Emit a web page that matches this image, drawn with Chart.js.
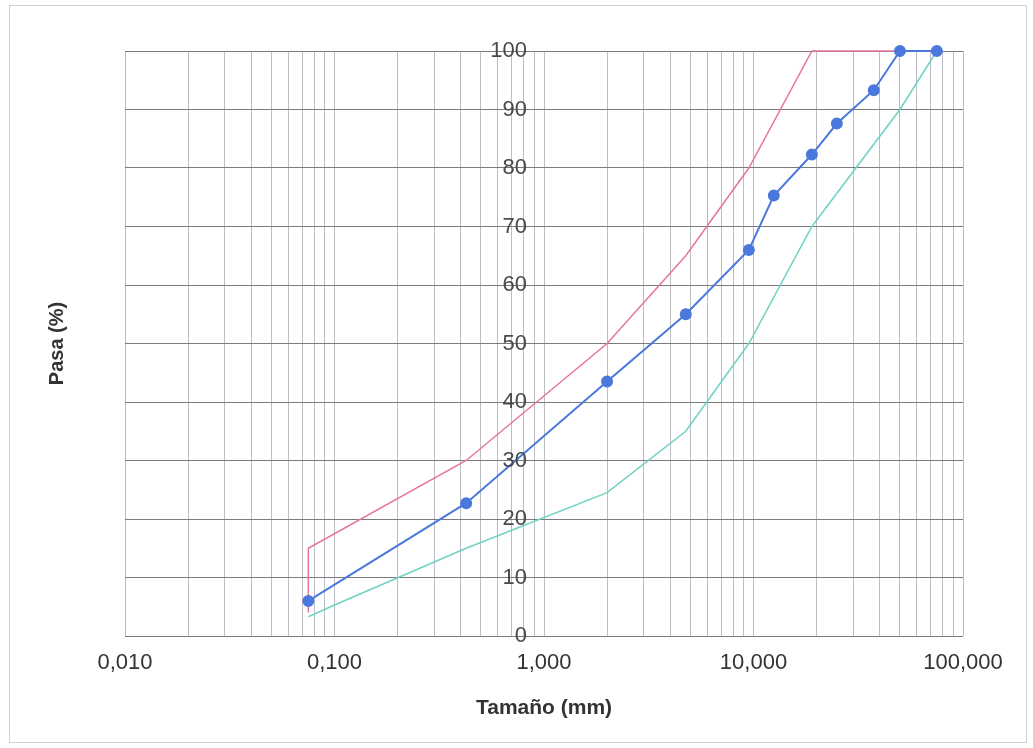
<!DOCTYPE html>
<html>
<head>
<meta charset="utf-8">
<script src="https://cdn.jsdelivr.net/npm/chart.js@4.4.1/dist/chart.umd.min.js"></script>
<style>
html,body{margin:0;padding:0;background:#fff;}
canvas{display:block;}
</style>
</head>
<body>
<canvas id="c" width="1033" height="748"></canvas>
<script>
// Gradation curve (sample)
const sizesSample = [0.075, 0.425, 2, 4.75, 9.5, 12.5, 19, 25, 37.5, 50, 75];
const passSample  = [6, 22.7, 43.5, 55, 66, 75.3, 82.3, 87.6, 93.3, 100, 100];
// Upper limit
const sizesUpper = [0.075, 0.075, 0.425, 2, 4.75, 9.5, 19, 75];
const passUpper  = [4, 15, 30, 50, 65, 80, 100, 100];
// Lower limit
const sizesLower = [0.075, 0.1, 0.425, 2, 4.75, 9.5, 19, 50, 75];
const passLower  = [3.3, 5.3, 15, 24.5, 35, 50, 70, 90, 100];

// Axis ticks
const xGridValues = [0.01,0.02,0.03,0.04,0.05,0.06,0.07,0.08,0.09,
                     0.1,0.2,0.3,0.4,0.5,0.6,0.7,0.8,0.9,
                     1,2,3,4,5,6,7,8,9,
                     10,20,30,40,50,60,70,80,90,100];
const xTickValues = [0.01, 0.1, 1, 10, 100];
const xTickLabels = ['0,010', '0,100', '1,000', '10,000', '100,000'];
const yTickValues = [0,10,20,30,40,50,60,70,80,90,100];
const yTickLabels = ['0','10','20','30','40','50','60','70','80','90','100'];
// x value (mm) where the vertical axis labels sit (axis crossing)
const yAxisCrossAt = 0.83;

const toPts = (xs, ys) => xs.map((x, i) => ({x: x, y: ys[i]}));
const fontFam = 'Liberation Sans, Arial, sans-serif';

const framePlugin = {
  id: 'frame',
  beforeDraw(chart) {
    const ctx = chart.ctx;
    ctx.save();
    ctx.fillStyle = '#ffffff';
    ctx.fillRect(0, 0, chart.width, chart.height);
    ctx.strokeStyle = '#cfcfcf';
    ctx.lineWidth = 1;
    ctx.strokeRect(9.5, 5.5, 1017, 737);
    ctx.restore();
  },
  afterDraw(chart) {
    const ctx = chart.ctx;
    const xs = chart.scales.x, ys = chart.scales.y;
    const xr = xs.getPixelForValue(yAxisCrossAt);
    ctx.save();
    ctx.font = '22px ' + fontFam;
    ctx.fillStyle = '#4a4a4a';
    ctx.textAlign = 'right';
    ctx.textBaseline = 'middle';
    yTickValues.forEach((v, i) => {
      ctx.fillText(yTickLabels[i], xr, ys.getPixelForValue(v));
    });
    ctx.restore();
  }
};

new Chart(document.getElementById('c'), {
  type: 'scatter',
  data: {
    datasets: [
      {
        label: 'Muestra',
        data: toPts(sizesSample, passSample),
        showLine: true,
        borderColor: '#4a78dc',
        backgroundColor: '#4a78dc',
        borderWidth: 2,
        pointRadius: 5,
        pointHoverRadius: 5,
        pointStyle: 'circle',
        clip: false,
        order: 0
      },
      {
        label: 'Lim. sup.',
        data: toPts(sizesUpper, passUpper),
        showLine: true,
        borderColor: '#e8759a',
        backgroundColor: '#e8759a',
        borderWidth: 1.5,
        pointRadius: 0,
        clip: false,
        order: 1
      },
      {
        label: 'Lim. inf.',
        data: toPts(sizesLower, passLower),
        showLine: true,
        borderColor: '#6ed3c4',
        backgroundColor: '#6ed3c4',
        borderWidth: 1.5,
        pointRadius: 0,
        clip: false,
        order: 2
      }
    ]
  },
  options: {
    responsive: false,
    animation: false,
    devicePixelRatio: 1,
    layout: { padding: { top: 51, right: 70, left: 0, bottom: 0 } },
    plugins: {
      legend: { display: false },
      tooltip: { enabled: false }
    },
    scales: {
      x: {
        type: 'logarithmic',
        min: 0.01,
        max: 100,
        afterBuildTicks: (scale) => { scale.ticks = xGridValues.map(v => ({ value: v })); },
        afterFit: (scale) => { scale.height = 112; },
        grid: { color: '#bcbcc4', lineWidth: 1, drawTicks: false },
        border: { display: false },
        ticks: {
          autoSkip: false,
          maxRotation: 0,
          minRotation: 0,
          padding: 14,
          color: '#333333',
          font: { family: fontFam, size: 22 },
          callback: (value) => {
            const i = xTickValues.findIndex(v => Math.abs(v - value) < 1e-9);
            return i >= 0 ? xTickLabels[i] : '';
          }
        },
        title: {
          display: true,
          text: 'Tamaño (mm)',
          color: '#333333',
          font: { family: fontFam, size: 21, weight: 'bold' },
          padding: { top: 0, bottom: 27 }
        }
      },
      y: {
        type: 'linear',
        position: 'left',
        min: 0,
        max: 100,
        afterBuildTicks: (scale) => { scale.ticks = yTickValues.map(v => ({ value: v })); },
        afterFit: (scale) => { scale.width = 125; },
        grid: { color: '#7a7a7a', lineWidth: 1, drawTicks: false },
        border: { display: false },
        ticks: { display: false },
        title: {
          display: true,
          text: 'Pasa (%)',
          color: '#333333',
          font: { family: fontFam, size: 20, weight: 'bold' },
          padding: { top: 45, bottom: 0 }
        }
      }
    }
  },
  plugins: [framePlugin]
});
</script>
</body>
</html>
